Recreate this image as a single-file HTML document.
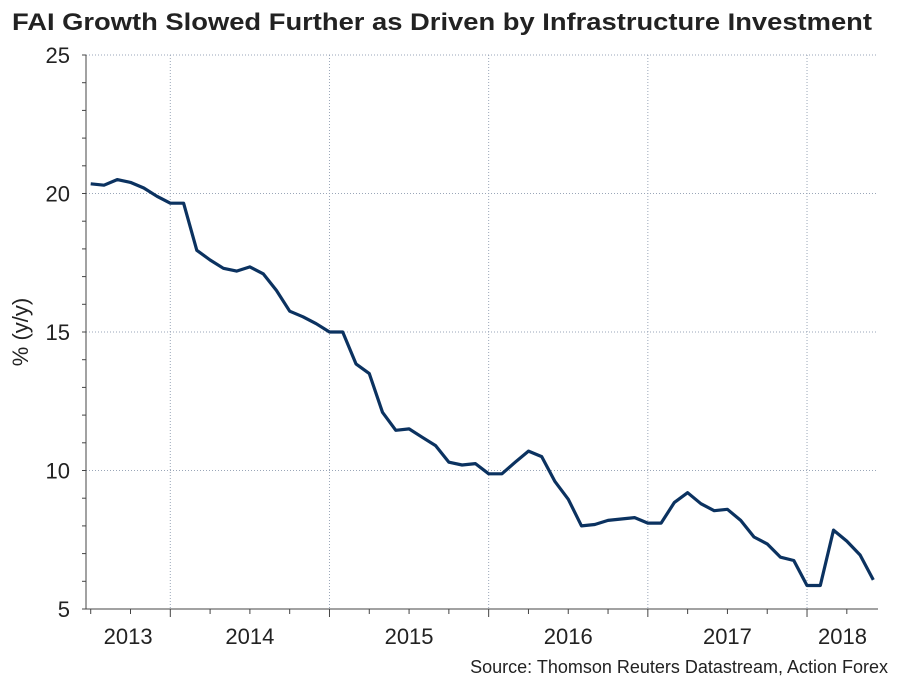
<!DOCTYPE html>
<html><head><meta charset="utf-8"><style>
body{margin:0;background:#fff;}
svg{display:block;font-family:"Liberation Sans",Arial,sans-serif;}
</style></head><body>
<svg id="chart" width="909" height="682" viewBox="0 0 909 682">
<text x="12" y="30" font-size="24" font-weight="bold" fill="#222" textLength="860" lengthAdjust="spacingAndGlyphs">FAI Growth Slowed Further as Driven by Infrastructure Investment</text>
<text transform="translate(28,332) rotate(-90)" text-anchor="middle" font-size="22" fill="#222">% (y/y)</text>
<text x="888" y="673" text-anchor="end" font-size="18" fill="#222">Source: Thomson Reuters Datastream, Action Forex</text>
<g id="grid"></g><g id="axes"></g><g id="series"></g>
</svg>
<script>
// monthly index: 0 = Jan 2014
const monthIndex = [-6,-5,-4,-3,-2,-1,0,1,2,3,4,5,6,7,8,9,10,11,12,13,14,15,16,17,18,19,20,21,22,23,24,25,26,27,28,29,30,31,32,33,34,35,36,37,38,39,40,41,42,43,44,45,46,47,48,49,50,51,52,53];
const faiValues = [20.35,20.3,20.5,20.4,20.2,19.9,19.65,19.65,17.95,17.6,17.3,17.2,17.35,17.1,16.5,15.75,15.55,15.3,15.0,15.0,13.85,13.5,12.1,11.45,11.5,11.2,10.9,10.3,10.2,10.25,9.88,9.88,10.3,10.7,10.5,9.6,8.96,8.0,8.05,8.2,8.25,8.3,8.1,8.1,8.85,9.2,8.8,8.55,8.6,8.2,7.6,7.35,6.87,6.75,5.85,5.85,7.85,7.45,6.95,6.05];
const yTicks = [5,10,15,20,25];
const yearLabels = ["2013","2014","2015","2016","2017","2018"];

const NS="http://www.w3.org/2000/svg";
const L=86,R=878,T=55,B=609;
const x=m=>170.3+m*13.265;
const y=v=>B-(v-5)*(B-T)/20;
function mk(tag,attrs,parent){const e=document.createElementNS(NS,tag);for(const k in attrs)e.setAttribute(k,attrs[k]);parent.appendChild(e);return e;}
const grid=document.getElementById('grid'),axes=document.getElementById('axes'),ser=document.getElementById('series');

yTicks.forEach(v=>{
  if(v>5){const g=mk('line',{x1:L,x2:R,y1:y(v),y2:y(v),stroke:'#9aa6b8','stroke-width':1,'stroke-dasharray':'1,2'},grid);
  
  }
  const t=mk('text',{x:70,y:y(v)+8,'text-anchor':'end','font-size':22,fill:'#222'},axes);
  t.textContent=v;
  
  
});
for(let v=5;v<=25;v++){mk('line',{x1:L-4,x2:L,y1:y(v),y2:y(v),stroke:'#444','stroke-width':1},axes);}
const bounds=[L];
for(let yr=0;yr<5;yr++){const bx=x(yr*12);bounds.push(bx);
  const g=mk('line',{x1:bx,x2:bx,y1:T,y2:B,stroke:'#9aa6b8','stroke-width':1,'stroke-dasharray':'1,2'},grid);
  
  }
bounds.push(R);
for(let m=-6;m<=54;m+=3){const tx=x(m);if(tx<L||tx>R)continue;mk('line',{x1:tx,x2:tx,y1:B,y2:B+(m%12===0?8:5),stroke:'#444','stroke-width':1},axes);}
yearLabels.forEach((lab,i)=>{
  const t=mk('text',{x:(bounds[i]+bounds[i+1])/2,y:644,'text-anchor':'middle','font-size':22,fill:'#222'},axes);
  t.textContent=lab;
  
  
});
const ya=mk('line',{x1:L,x2:L,y1:T,y2:B,stroke:'#444','stroke-width':1},axes);


const xa=mk('line',{x1:L,x2:R,y1:B,y2:B,stroke:'#444','stroke-width':1},axes);



const pts=monthIndex.map((m,i)=>x(m).toFixed(1)+','+y(faiValues[i]).toFixed(1)).join(' ');
const line=mk('polyline',{points:pts,fill:'none',stroke:'#0b3260','stroke-width':3.2,'stroke-linejoin':'round'},ser);


</script>
</body></html>
